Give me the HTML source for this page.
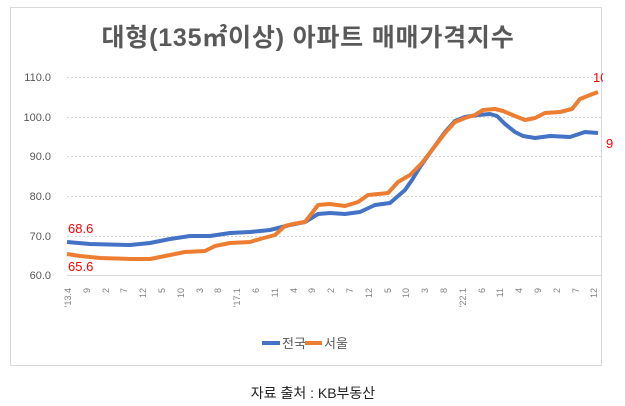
<!DOCTYPE html>
<html><head><meta charset="utf-8"><style>
body{margin:0;background:#fff;width:625px;height:406px;overflow:hidden;font-family:"Liberation Sans","Noto Sans CJK KR",sans-serif}
</style></head><body>
<svg width="625" height="406" xmlns="http://www.w3.org/2000/svg" style="position:absolute;left:0;top:0">
<defs><clipPath id="c"><rect x="0" y="0" width="603" height="406"/></clipPath></defs>
<rect x="10.5" y="7.5" width="591" height="358" fill="#fff" stroke="#d9d9d9"/>
<text x="308" y="46" text-anchor="middle" font-size="25" font-weight="bold" letter-spacing="0.8" fill="#595959" font-family="Liberation Sans, Noto Sans CJK KR, sans-serif">대형(135㎡이상) 아파트 매매가격지수</text>
<g stroke="#d9d9d9" stroke-dasharray="2,2" stroke-width="1">
<line x1="67" x2="601" y1="77.5" y2="77.5"/><line x1="67" x2="601" y1="117.5" y2="117.5"/><line x1="67" x2="601" y1="156.5" y2="156.5"/><line x1="67" x2="601" y1="196.5" y2="196.5"/><line x1="67" x2="601" y1="236.5" y2="236.5"/>
</g>
<line x1="67" x2="601" y1="275.5" y2="275.5" stroke="#d9d9d9"/>
<g font-size="11" fill="#595959" text-anchor="end">
<text x="51" y="81">110.0</text><text x="51" y="121">100.0</text><text x="51" y="160">90.0</text><text x="51" y="200">80.0</text><text x="51" y="240">70.0</text><text x="51" y="279">60.0</text>
</g>
<polyline fill="none" stroke="#4472c4" stroke-width="4" stroke-linejoin="round" points="67,242 90,244 130,245 150,243 170,239 190,236 210,236 230,233 250,232 270,230 290,225 305,222 318,214 330,213 345,214 360,212 375,205 390,203 405,190 412,180 420,167 432,150 445,132 455,121 465,117 478,115 490,114 497,116 505,124 515,132 523,136 535,138 550,136 570,137 585,132 598,133"/>
<polyline fill="none" stroke="#ed7d31" stroke-width="4" stroke-linejoin="round" points="67,254 80,256 100,258 130,259 150,259 170,255 185,252 205,251 215,246 230,243 250,242 260,239 275,235 285,226 293,224 305,222 312,213 318,205 330,204 345,206 358,202 368,195 378,194 388,193 398,182 410,175 422,163 432,150 445,133 455,122 465,118 475,115 483,110 495,109 503,111 515,116 525,120 535,118 545,113 560,112 572,109 580,99 590,95 598,92"/>
<g font-size="13" fill="#ff0000">
<text x="68" y="233">68.6</text><text x="68" y="271">65.6</text><text x="593" y="82" clip-path="url(#c)">106</text><text x="606" y="148">9</text>
</g>
<line x1="262" x2="280" y1="343" y2="343" stroke="#4472c4" stroke-width="4"/>
<text x="282" y="348" font-size="13" fill="#595959">전국</text>
<line x1="305" x2="322" y1="343" y2="343" stroke="#ed7d31" stroke-width="4"/>
<text x="324" y="348" font-size="13" fill="#595959">서울</text>
<text x="313" y="398" text-anchor="middle" font-size="14" fill="#222">자료 출처 : KB부동산</text>
<g font-size="9" fill="#808080" text-anchor="end">
<text transform="translate(71,288) rotate(-90)">'13.4</text>
<text transform="translate(90,288) rotate(-90)">9</text>
<text transform="translate(109,288) rotate(-90)">2</text>
<text transform="translate(127,288) rotate(-90)">7</text>
<text transform="translate(146,288) rotate(-90)">12</text>
<text transform="translate(165,288) rotate(-90)">5</text>
<text transform="translate(184,288) rotate(-90)">10</text>
<text transform="translate(203,288) rotate(-90)">3</text>
<text transform="translate(221,288) rotate(-90)">8</text>
<text transform="translate(240,288) rotate(-90)">'17.1</text>
<text transform="translate(259,288) rotate(-90)">6</text>
<text transform="translate(278,288) rotate(-90)">11</text>
<text transform="translate(297,288) rotate(-90)">4</text>
<text transform="translate(315,288) rotate(-90)">9</text>
<text transform="translate(334,288) rotate(-90)">2</text>
<text transform="translate(353,288) rotate(-90)">7</text>
<text transform="translate(372,288) rotate(-90)">12</text>
<text transform="translate(391,288) rotate(-90)">5</text>
<text transform="translate(409,288) rotate(-90)">10</text>
<text transform="translate(428,288) rotate(-90)">3</text>
<text transform="translate(447,288) rotate(-90)">8</text>
<text transform="translate(466,288) rotate(-90)">'22.1</text>
<text transform="translate(485,288) rotate(-90)">6</text>
<text transform="translate(503,288) rotate(-90)">11</text>
<text transform="translate(522,288) rotate(-90)">4</text>
<text transform="translate(541,288) rotate(-90)">9</text>
<text transform="translate(560,288) rotate(-90)">2</text>
<text transform="translate(579,288) rotate(-90)">7</text>
<text transform="translate(597,288) rotate(-90)">12</text>
</g>
</svg>
</body></html>
